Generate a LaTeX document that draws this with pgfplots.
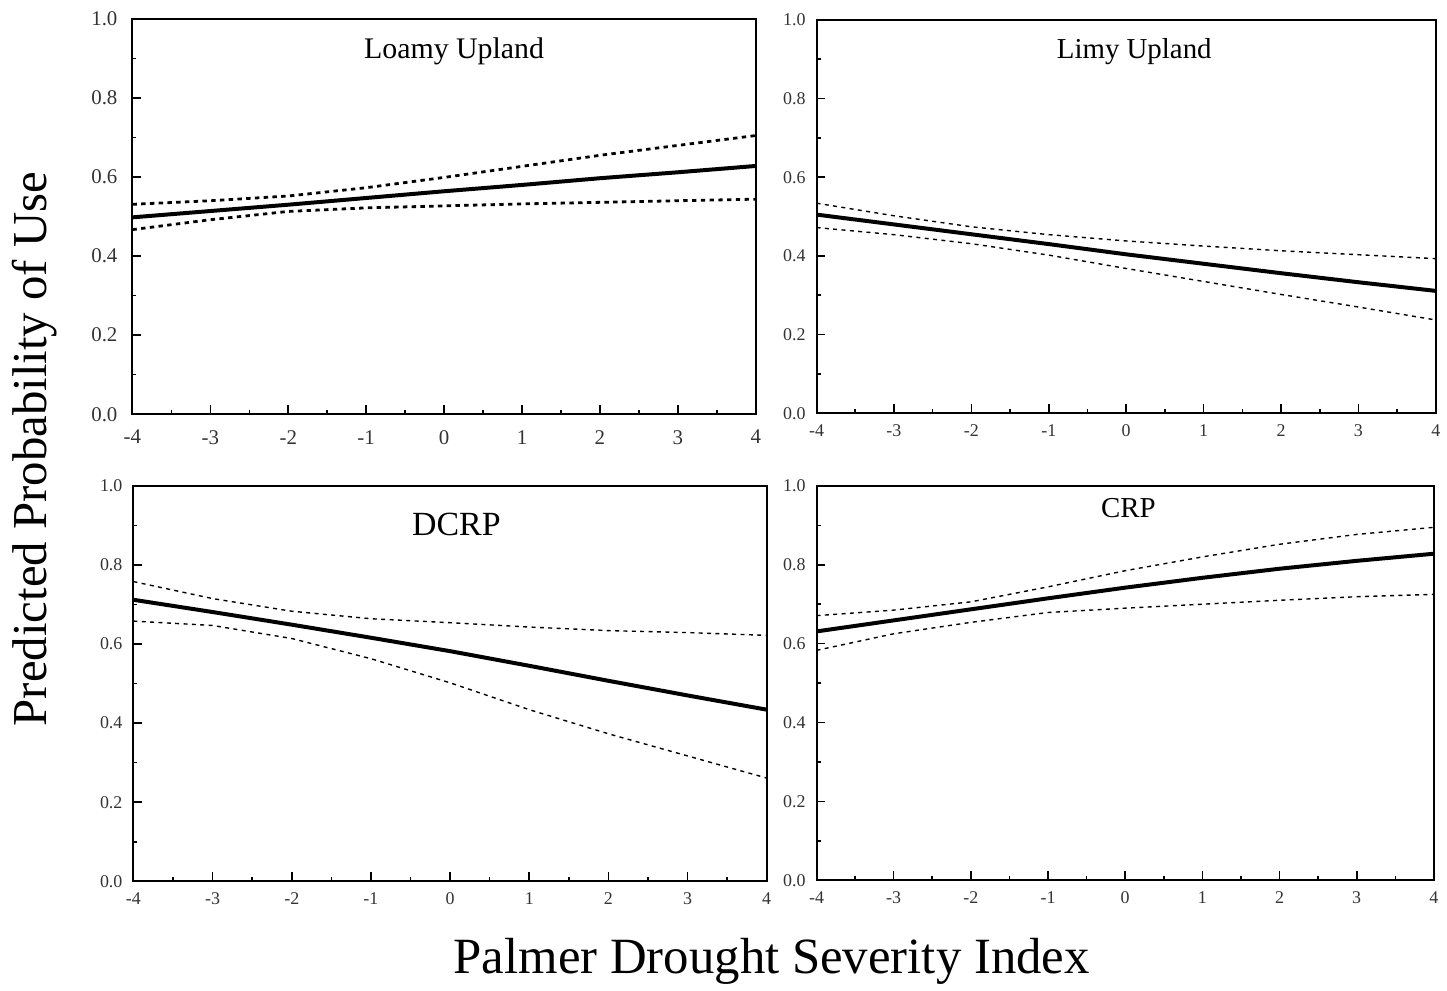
\documentclass[border=0pt]{standalone}
\usepackage{fontspec}
\setmainfont{Liberation Serif}
\usepackage{pgfplots}
\pgfplotsset{compat=1.18}

\pgfplotsset{
  panel/.style={
    scale only axis, anchor=south west,
    xmin=-4, xmax=4, ymin=0, ymax=1,
    xtick={-4,-3,-2,-1,0,1,2,3,4},
    ytick={0,0.2,0.4,0.6,0.8,1},
    minor x tick num=1, minor y tick num=1,
    tick align=inside, xtick pos=bottom, ytick pos=left,
    major tick length=4.5pt, minor tick length=2pt,
    tick style={black, line width=0.8pt},
    axis line style={line width=1pt},
    /pgf/number format/assume math mode=true,
    tick label style={font=\fontsize{9}{10}\selectfont, text=black!80},
    yticklabel style={/pgf/number format/fixed, /pgf/number format/fixed zerofill, /pgf/number format/precision=1, xshift=-2pt},
    xticklabel style={yshift=-2pt},
  },
  big labels/.style={
    tick label style={font=\fontsize{10.5}{11}\selectfont},
    yticklabel style={xshift=-2pt},
    xticklabel style={yshift=-2.5pt},
  },
  fit/.style={black, line width=2pt, no marks},
  ci/.style={black, line width=0.7pt, no marks, dash pattern=on 2pt off 2.2pt},
  cithick/.style={black, line width=1.4pt, no marks, dash pattern=on 2.2pt off 2.2pt},
}
\tikzset{ttl/.style={font=\fontsize{14.5}{16}\selectfont}}

\begin{document}
\begin{tikzpicture}
\path (0,0) rectangle (723.5pt,497.5pt);

% Loamy Upland
\begin{axis}[panel, big labels, at={(66.5pt,289.5pt)}, width=313pt, height=198.5pt]
\addplot[cithick] coordinates {(-4,0.531) (-3,0.540) (-2,0.552) (-1,0.573) (0,0.599) (1,0.627) (2,0.655) (3,0.680) (4,0.705)};
\addplot[cithick] coordinates {(-4,0.467) (-3,0.492) (-2,0.513) (-1,0.522) (0,0.527) (1,0.532) (2,0.536) (3,0.540) (4,0.544)};
\addplot[fit] coordinates {(-4,0.498) (-3,0.514) (-2,0.530) (-1,0.547) (0,0.564) (1,0.580) (2,0.597) (3,0.612) (4,0.628)};
\node[font=\fontsize{15}{17}\selectfont] at (rel axis cs:0.516,0.917) {Loamy Upland};
\end{axis}

% Limy Upland
\begin{axis}[panel, at={(410pt,290pt)}, width=311pt, height=197.5pt]
\addplot[ci] coordinates {(-4,0.534) (-3,0.502) (-2,0.474) (-1,0.454) (0,0.438) (1,0.425) (2,0.413) (3,0.403) (4,0.393)};
\addplot[ci] coordinates {(-4,0.472) (-3,0.454) (-2,0.431) (-1,0.402) (0,0.368) (1,0.335) (2,0.302) (3,0.270) (4,0.237)};
\addplot[fit] coordinates {(-4,0.505) (-3,0.480) (-2,0.455) (-1,0.430) (0,0.404) (1,0.380) (2,0.356) (3,0.333) (4,0.311)};
\node[ttl] at (rel axis cs:0.513,0.919) {Limy Upland};
\end{axis}

% DCRP
\begin{axis}[panel, at={(67pt,55pt)}, width=318pt, height=198.5pt]
\addplot[ci] coordinates {(-4,0.758) (-3,0.715) (-2,0.683) (-1,0.664) (0,0.654) (1,0.643) (2,0.634) (3,0.629) (4,0.622)};
\addplot[ci] coordinates {(-4,0.658) (-3,0.647) (-2,0.614) (-1,0.563) (0,0.502) (1,0.434) (2,0.373) (3,0.317) (4,0.261)};
\addplot[fit] coordinates {(-4,0.712) (-3,0.681) (-2,0.649) (-1,0.616) (0,0.582) (1,0.545) (2,0.507) (3,0.470) (4,0.434)};
\node[font=\fontsize{17}{19}\selectfont] at (rel axis cs:0.51,0.902) {DCRP};
\end{axis}

% CRP
\begin{axis}[panel, at={(410pt,55.5pt)}, width=310pt, height=198pt]
\addplot[ci] coordinates {(-4,0.671) (-3,0.685) (-2,0.706) (-1,0.744) (0,0.785) (1,0.820) (2,0.852) (3,0.877) (4,0.895)};
\addplot[ci] coordinates {(-4,0.583) (-3,0.625) (-2,0.654) (-1,0.679) (0,0.690) (1,0.700) (2,0.710) (3,0.719) (4,0.725)};
\addplot[fit] coordinates {(-4,0.631) (-3,0.659) (-2,0.687) (-1,0.715) (0,0.742) (1,0.767) (2,0.790) (3,0.810) (4,0.828)};
\node[ttl] at (rel axis cs:0.505,0.944) {CRP};
\end{axis}

\node[rotate=90, font=\fontsize{24.5}{26}\selectfont] at (17.5pt,272pt) {Predicted Probability of Use};
\node[font=\fontsize{25.5}{27}\selectfont] at (387.5pt,15pt) {Palmer Drought Severity Index};
\end{tikzpicture}
\end{document}
